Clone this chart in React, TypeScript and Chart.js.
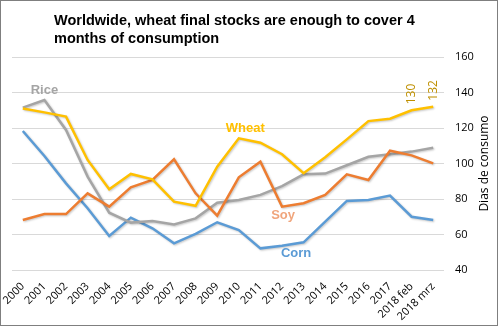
import React, { useEffect, useRef } from "react";
import { Chart, registerables } from "chart.js";

Chart.register(...registerables);

const categories = ["2000","2001","2002","2003","2004","2005","2006","2007","2008","2009","2010","2011","2012","2013","2014","2015","2016","2017","2018 feb","2018 mrz"];
const wheat = [131,128.8,126.4,102,85.5,94.1,91.1,78.5,76.2,98.2,114.2,111.7,105.2,94.5,103.5,113.6,123.9,125.2,130,132];
const rice = [131.5,135.8,118.9,92.6,72.3,66.7,67.6,65.7,69.1,77.9,79.4,82.3,87.3,93.9,94.3,99,103.8,105.2,106.7,108.9];
const soy = [68.2,71.5,71.5,83.2,75.7,86.6,90.7,102.4,83.2,70.6,92.2,101,75.7,77.6,82.3,93.9,90.7,107.2,104.6,100.1];
const corn = [118.3,104.2,88.8,74.8,59.2,69.5,63.5,55,60.3,66.9,62.5,52.2,53.7,55.6,67.2,78.9,79.4,81.9,70,68.2];
const titleLines = ["Worldwide, wheat final stocks are enough to cover 4", "months of consumption"];
const axisTitle = "Dias de consumo";
const wheatValueLabels = ["130", "132"];

const seriesLabels = [
  { text: "Rice", idx: 1, val: 141.4, color: "#A5A5A5" },
  { text: "Wheat", idx: 10.3, val: 120, color: "#FFC000" },
  { text: "Soy", idx: 12.05, val: 71, color: "#F0A57C" },
  { text: "Corn", idx: 12.65, val: 49.6, color: "#5B9BD5" },
];

const decor = {
  id: "decor",
  beforeDatasetsDraw(chart: any) {
    const ctx = chart.ctx;
    ctx.save();
    ctx.shadowColor = "rgba(0,0,0,0.22)";
    ctx.shadowBlur = 2;
    ctx.shadowOffsetX = 1;
    ctx.shadowOffsetY = 1;
  },
  afterDatasetsDraw(chart: any) {
    chart.ctx.restore();
  },
  afterDraw(chart: any) {
    const ctx = chart.ctx;
    const xs = chart.scales.x;
    const ys = chart.scales.y;
    ctx.save();
    // title
    ctx.fillStyle = "#000";
    ctx.font = "bold 14.5px 'Liberation Sans', Arial, sans-serif";
    ctx.textAlign = "left";
    ctx.textBaseline = "alphabetic";
    ctx.fillText(titleLines[0], 54, 25);
    ctx.fillText(titleLines[1], 54, 43);
    // series labels
    ctx.font = "bold 13px 'Liberation Sans', Arial, sans-serif";
    ctx.textAlign = "center";
    ctx.textBaseline = "middle";
    for (const l of seriesLabels) {
      const x = xs.left + (l.idx + 0.5) * (xs.width / categories.length);
      ctx.fillStyle = l.color;
      ctx.fillText(l.text, x, ys.getPixelForValue(l.val));
    }
    // wheat value labels
    ctx.font = "12px 'Open Sans', sans-serif";
    ctx.fillStyle = "#BF9000";
    ctx.textAlign = "left";
    ctx.textBaseline = "middle";
    const meta = chart.getDatasetMeta(0);
    const n = wheat.length;
    wheatValueLabels.forEach((t, k) => {
      const pt = meta.data[n - 2 + k];
      ctx.save();
      ctx.translate(pt.x, pt.y - 6);
      ctx.rotate(-Math.PI / 2);
      ctx.fillText(t, 0, 0);
      ctx.restore();
    });
    // axis title
    ctx.font = "12px 'Open Sans', sans-serif";
    ctx.fillStyle = "#000";
    ctx.textAlign = "center";
    ctx.save();
    ctx.translate(485, (ys.top + ys.bottom) / 2);
    ctx.rotate(-Math.PI / 2);
    ctx.fillText(axisTitle, 0, 0);
    ctx.restore();
    // border
    ctx.strokeStyle = "#7F7F7F";
    ctx.lineWidth = 1;
    ctx.strokeRect(0.5, 0.5, 497, 325);
    ctx.restore();
  },
};

export default function App() {
  const ref = useRef<HTMLCanvasElement>(null);
  useEffect(() => {
    const ds = (label: string, data: number[], color: string) => ({
      label, data, borderColor: color, backgroundColor: color, borderWidth: 2.5,
      pointRadius: 0, tension: 0, fill: false,
    });
    const chart = new Chart(ref.current!, {
      type: "line",
      data: {
        labels: categories,
        datasets: [
          ds("Wheat", wheat, "#FFC000"),
          ds("Soy", soy, "#ED7D31"),
          ds("Rice", rice, "#A5A5A5"),
          ds("Corn", corn, "#5B9BD5"),
        ],
      },
      options: {
        responsive: false,
        animation: false,
        layout: { padding: { left: 12, top: 57, right: 1, bottom: 0 } },
        plugins: { legend: { display: false }, tooltip: { enabled: false }, title: { display: false } },
        scales: {
          x: {
            offset: true,
            grid: { display: false },
            border: { display: false },
            ticks: {
              minRotation: 45, maxRotation: 45, autoSkip: false, padding: 2,
              color: "#000", font: { family: "'Open Sans', sans-serif", size: 11 },
            },
            afterFit: (s: any) => { s.height = 56; },
          },
          y: {
            position: "right",
            min: 40, max: 160,
            ticks: { stepSize: 20, padding: 11, color: "#000", font: { family: "'Open Sans', sans-serif", size: 11 } },
            grid: { color: "#D9D9D9", lineWidth: 1, drawTicks: false },
            border: { display: false },
            afterFit: (s: any) => { s.width = 55; },
          },
        },
      },
      plugins: [decor],
    });
    return () => chart.destroy();
  }, []);
  return (
    <div style={{ position: "fixed", left: 0, top: 0, width: 500, height: 326, background: "#fff" }}>
      <canvas ref={ref} width={500} height={326} />
    </div>
  );
}
